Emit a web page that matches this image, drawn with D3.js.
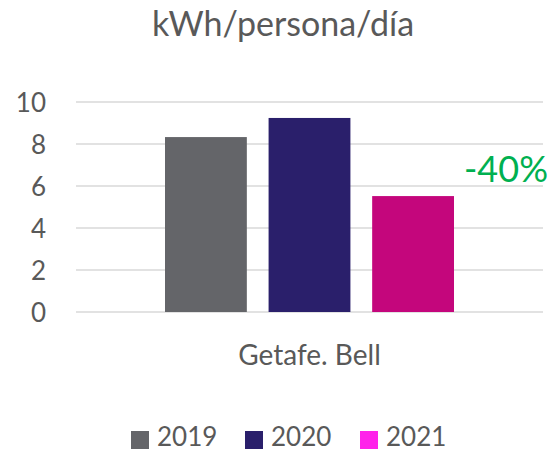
<!DOCTYPE html>
<html><head><meta charset="utf-8">
<script src="https://cdn.jsdelivr.net/npm/d3@7"></script>
<style>body{margin:0;background:#fff}svg{display:block}</style>
</head><body>
<script>
const categories = ["Getafe. Bell"];
const seriesNames = ["2019", "2020", "2021"];
const values = [8.33, 9.24, 5.52];
const barColors = ["#646569", "#2A1F6B", "#C4067C"];
const legendColors = ["#646569", "#2A1F6B", "#FF22EA"];
const yTicks = [0, 2, 4, 6, 8, 10];
const title = "kWh/persona/día";
const annotation = "-40%";

const W = 552, H = 452;
const font = "Lato, 'Open Sans', sans-serif";
const textColor = "#595959";
const svg = d3.select("body").append("svg").attr("width", W).attr("height", H);

const x0 = d3.scaleBand().domain(categories).range([76, 543]).paddingInner(0).paddingOuter(0);
const y = d3.scaleLinear().domain([0, 10]).range([312, 102]);
const groupW = 289;
const x1 = d3.scaleBand().domain(seriesNames).range([0, groupW]).paddingInner(0.21).paddingOuter(0);

// gridlines
svg.append("g").selectAll("line").data(yTicks).join("line")
  .attr("x1", 76).attr("x2", 543)
  .attr("y1", d => y(d)).attr("y2", d => y(d))
  .attr("stroke", "#D9D9D9").attr("stroke-width", 1.5);

// y axis labels
const yAxis = d3.axisLeft(y).tickValues(yTicks).tickSize(0).tickPadding(0);
const ya = svg.append("g").attr("transform", "translate(46,0)").call(yAxis);
ya.select(".domain").remove();
ya.selectAll("text").attr("font-family", font).attr("font-size", 26).attr("fill", textColor).attr("dy", "0.35em");

// bars
categories.forEach(cat => {
  const gx = x0(cat) + (x0.bandwidth() - groupW) / 2;
  svg.append("g").attr("transform", `translate(${gx},0)`)
    .selectAll("rect").data(values).join("rect")
    .attr("x", (d, i) => x1(seriesNames[i]))
    .attr("width", x1.bandwidth())
    .attr("y", d => y(d))
    .attr("height", d => y(0) - y(d))
    .attr("fill", (d, i) => barColors[i]);
  // category label
  svg.append("text").attr("x", x0(cat) + x0.bandwidth() / 2).attr("y", 365)
    .attr("text-anchor", "middle").attr("font-family", font).attr("font-size", 28)
    .attr("fill", textColor).text(cat);
});

// annotation
svg.append("text").attr("x", 548).attr("y", 182).attr("text-anchor", "end")
  .attr("font-family", font).attr("font-size", 36).attr("fill", "#00B050").text(annotation);

// title
svg.append("text").attr("x", 283).attr("y", 36).attr("text-anchor", "middle")
  .attr("font-family", font).attr("font-size", 34).attr("fill", textColor).text(title);

// legend
const legX = [131, 245, 360];
const lg = svg.append("g");
seriesNames.forEach((s, i) => {
  lg.append("rect").attr("x", legX[i]).attr("y", 431).attr("width", 18).attr("height", 18).attr("fill", legendColors[i]);
  lg.append("text").attr("x", legX[i] + 26).attr("y", 446).attr("font-family", font)
    .attr("font-size", 26).attr("fill", textColor).text(s);
});
</script>
</body></html>
